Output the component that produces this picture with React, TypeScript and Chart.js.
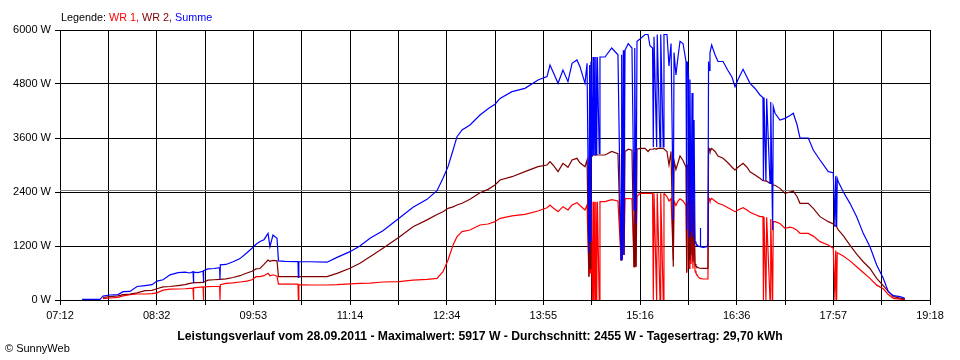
import React, { useEffect, useRef } from 'react';
import { Chart, registerables } from 'chart.js';

Chart.register(...registerables);

// Time of day in minutes since midnight
const times = [
  450.4, 465.4, 467.9, 473.7, 480.4, 484.6, 490.4, 496.3, 502.9, 508.8,
  512.9, 518.0, 523.8, 530.5, 536.3, 540.5, 543.0, 543.3, 543.7, 547.2,
  551.4, 551.7, 552.0, 555.5, 560.5, 565.2, 565.5, 565.8, 570.5, 576.4,
  582.2, 588.0, 592.2, 595.6, 598.9, 602.2, 605.6, 607.2, 609.7, 613.1,
  614.3, 619.8, 630.6, 630.9, 631.3, 640.6,
  654.8, 663.2, 674.0, 682.3, 690.7, 701.5, 714.9, 726.6, 738.3, 746.6,
  751.6, 755.8, 760.0, 763.3, 767.5, 774.1, 782.5, 789.2, 795.0, 799.2,
  809.2, 820.0, 830.9, 838.4, 840.9, 843.4, 847.6, 851.7, 855.9, 859.3,
  863.4, 865.9, 870.1, 871.8, 873.4, 874.0, 874.5, 875.1, 876.2, 876.8,
  877.3, 877.8, 878.5, 879.1, 879.9, 880.4, 882.0, 882.6, 886.8, 892.4,
  897.6, 900.2, 900.7, 901.2, 902.1, 902.6, 903.5, 906.2, 909.3, 911.0,
  911.6, 912.7, 913.5, 916.0, 920.2, 922.7, 924.3, 926.5, 927.1, 927.7,
  929.9, 930.4, 932.7, 933.3, 935.4, 936.0, 938.5, 940.2, 941.9, 943.8,
  944.4, 946.0, 947.7, 949.4, 951.9, 954.4, 955.0, 955.5, 956.5, 957.2,
  957.7, 958.6, 959.4, 960.2, 961.1, 961.9, 962.7, 964.4, 966.1, 966.3,
  966.7, 968.6, 971.9, 972.7, 973.2, 973.6, 974.4, 975.8, 978.6, 981.1,
  985.3, 989.4, 992.8, 995.3, 997.8, 1002.0, 1005.3, 1007.8, 1012.0, 1016.1,
  1018.6, 1019.0, 1019.5, 1021.1, 1021.7, 1024.5, 1025.1, 1026.7, 1027.2, 1028.7,
  1032.8, 1037.0, 1041.2, 1043.9, 1047.0, 1049.5, 1056.4, 1060.6, 1066.2, 1073.1,
  1077.3, 1078.7, 1079.3, 1080.1, 1080.6, 1081.5, 1085.6, 1091.2, 1096.8, 1102.3,
  1107.9, 1113.5, 1119.0, 1123.2, 1127.4, 1133.0, 1137.1,
];

const wr1 = [
  null, null, 30, 44, 60, 90, 120, 133, 133, 140,
  160, 220, 240, 244, 250, 260, 260, 0, 270, 280,
  290, 0, 290, 296, 300, 300, 0, 340, 370, 380,
  400, 420, 450, 518, 520, 540, 593, 540, 560, 530,
  355, 355, 355, 0, 340, 333,
  333, 340, 360, 370, 375, 400, 410, 440, 460, 481,
  630, 889, 1222, 1407, 1519, 1556, 1667, 1689, 1741, 1815,
  1870, 1904, 1978, 2050, 2111, 2050, 1963, 2074, 2000, 2111,
  2163, 2100, 2000, 2111, 518, 2111, 600, 2150, 0, 2185,
  0, 2185, 0, 2185, 0, 2185, 0, 2185, 2185, 2230,
  2200, 889, 2200, 900, 2250, 1000, 2252, 2252, 2250, 741,
  2300, 741, 2300, 2370, 2370, 2370, 2370, 2370, 0, 2370,
  0, 2370, 0, 2370, 0, 2370, 2300, 2200, 2250, 889,
  2200, 2100, 2200, 2250, 2200, 2100, 600, 2150, 2100, 700,
  2000, 800, 1800, 700, 1500, 650, 600, 520, 480, 480,
  480, 467, 467, 467, 2259, 2259, 2200, 2259, 2200, 2150,
  2111, 2050, 2000, 1963, 2000, 2050, 2000, 1950, 1900, 1852,
  1852, 0, 1852, 0, 1840, 0, 1800, 0, 1741, 1741,
  1700, 1593, 1620, 1600, 1550, 1481, 1481, 1420, 1296, 1222,
  1148, 0, 1100, 0, 1050, 1037, 980, 870, 740, 610,
  480, 330, 250, 120, 37, 20, 10,
];

const wr2 = [
  null, null, 60, 74, 90, 120, 133, 160, 207, 215,
  250, 290, 300, 320, 340, 370, 380, 380, 385, 385,
  390, 390, 390, 440, 450, 460, 460, 460, 470, 500,
  540, 600, 640, 690, 700, 790, 889, 860, 880, 870,
  518, 518, 518, 518, 518, 518,
  518, 593, 704, 815, 960, 1150, 1393, 1630, 1780, 1900,
  1960, 2037, 2070, 2110, 2150, 2237, 2385, 2459, 2556, 2667,
  2740, 2852, 2963, 3000, 3074, 3000, 2852, 3037, 2950, 3110,
  3148, 3050, 2963, 3111, 518, 3111, 700, 3150, 3200, 3222,
  3222, 3222, 3222, 3222, 3222, 3222, 3222, 3222, 3222, 3300,
  3250, 889, 3250, 900, 3300, 1000, 3300, 3350, 3330, 741,
  3300, 741, 3350, 3370, 3370, 3300, 3350, 3350, 3350, 3370,
  3350, 3370, 3370, 3370, 3370, 3370, 3300, 3000, 3300, 741,
  3100, 2900, 3050, 3200, 3100, 2950, 630, 3000, 3000, 900,
  2900, 1000, 2700, 850, 2200, 800, 750, 720, 705, 705,
  705, 704, 704, 704, 3370, 3370, 3300, 3370, 3300, 3200,
  3150, 3050, 2950, 2889, 2950, 3037, 2950, 2850, 2780, 2704,
  2650, 2650, 2650, 2640, 2640, 2593, 2593, 2593, 2550, 2550,
  2481, 2370, 2400, 2420, 2300, 2148, 2148, 2037, 1852, 1741,
  1689, 1650, 1650, 1630, 1600, 1560, 1430, 1220, 1020, 850,
  700, 480, 320, 190, 74, 40, 20,
];

const summe = [
  15, 15, 90, 111, 120, 185, 190, 300, 320, 340,
  420, 450, 560, 610, 620, 600, 630, 380, 620, 607,
  640, 390, 650, 690, 700, 720, 460, 780, 790, 850,
  920, 1050, 1150, 1240, 1300, 1340, 1480, 1185, 1444, 1370,
  870, 860, 852, 500, 852, 850,
  840, 948, 1074, 1200, 1370, 1541, 1815, 2059, 2237, 2430,
  2704, 2963, 3333, 3630, 3778, 3889, 4111, 4250, 4350, 4481,
  4630, 4704, 4889, 4963, 5222, 5074, 4815, 5111, 4852, 5259,
  5333, 5185, 4815, 5259, 1040, 5222, 1300, 5300, 3200, 5400,
  3222, 5400, 3222, 5400, 3222, 5400, 3259, 5400, 5400, 5600,
  5450, 889, 5450, 900, 5550, 1000, 5550, 5700, 5600, 2000,
  5600, 1700, 5750, 5800, 5900, 5900, 5650, 5600, 3400, 5850,
  3400, 5900, 3400, 5900, 3400, 5900, 5900, 5200, 5700, 1780,
  5500, 5000, 5400, 5750, 5700, 5300, 1555, 5300, 5000, 1400,
  4900, 1500, 4600, 1400, 4000, 1300, 1250, 1200, 1185, 1600,
  1185, 1170, 1185, 1250, 5300, 5100, 5500, 5667, 5450, 5300,
  5300, 5100, 4950, 4741, 4900, 5126, 4950, 4815, 4700, 4556,
  4500, 2650, 4500, 2640, 4480, 2593, 4400, 1555, 4300, 4150,
  4000, 4037, 4100, 4150, 3900, 3600, 3600, 3333, 3111, 2852,
  2830, 1630, 2750, 1630, 2700, 2630, 2407, 2148, 1852, 1481,
  1185, 778, 481, 185, 96, 74, 40,
];

const xTickLabels = ['07:12', '08:32', '09:53', '11:14', '12:34', '13:55', '15:16', '16:36', '17:57', '19:18'];
const xMin = 432; // 07:12
const xMax = 1158; // 19:18
const xGridCount = 18;
const yMax = 6000;
const yStep = 1200;
const averageW = 2455;

const legendParts: [string, string][] = [
  ['Legende: ', '#000000'],
  ['WR 1,', '#ff0000'],
  [' WR 2,', '#800000'],
  [' Summe', '#0000ff'],
];
const titleText = 'Leistungsverlauf vom 28.09.2011 - Maximalwert: 5917 W - Durchschnitt: 2455 W - Tagesertrag: 29,70 kWh';
const footerText = '\u00a9 SunnyWeb';

const FONT = '"Liberation Sans", Arial, sans-serif';

const toPoints = (vals: (number | null)[]) => times.map((t, i) => ({ x: t, y: vals[i] }));

const overlay = {
  id: 'overlay',
  beforeDatasetsDraw(chart: any) {
    const { ctx, chartArea, scales } = chart;
    const y = Math.round(scales.y.getPixelForValue(averageW)) + 0.5;
    ctx.save();
    ctx.strokeStyle = '#808080';
    ctx.lineWidth = 1;
    ctx.beginPath();
    ctx.moveTo(chartArea.left, y);
    ctx.lineTo(chartArea.right, y);
    ctx.stroke();
    ctx.restore();
  },
  afterDraw(chart: any) {
    const { ctx } = chart;
    ctx.save();
    ctx.textBaseline = 'alphabetic';
    ctx.font = `10.8px ${FONT}`;
    let x = 61;
    for (const [txt, col] of legendParts) {
      ctx.fillStyle = col;
      ctx.fillText(txt, x, 21);
      x += ctx.measureText(txt).width;
    }
    ctx.fillStyle = '#000000';
    ctx.font = `bold 12.2px ${FONT}`;
    ctx.textAlign = 'center';
    ctx.fillText(titleText, 480, 340);
    ctx.textAlign = 'left';
    ctx.font = `11px ${FONT}`;
    ctx.fillText(footerText, 5, 352);
    ctx.restore();
  },
};

export default function App() {
  const ref = useRef<HTMLCanvasElement | null>(null);
  useEffect(() => {
    if (!ref.current) return;
    const chart = new Chart(ref.current, {
      type: 'line',
      data: {
        datasets: [
          { label: 'Summe', data: toPoints(summe), borderColor: '#0000ff', order: 0 },
          { label: 'WR 2', data: toPoints(wr2), borderColor: '#800000', order: 1 },
          { label: 'WR 1', data: toPoints(wr1), borderColor: '#ff0000', order: 2 },
        ],
      },
      options: {
        responsive: false,
        animation: false,
        parsing: false,
        normalized: true,
        spanGaps: false,
        layout: { padding: { top: 30, right: 30, left: 0, bottom: 0 } },
        elements: {
          point: { radius: 0, hoverRadius: 0 },
          line: { borderWidth: 1.2, tension: 0, fill: false },
        },
        plugins: { legend: { display: false }, tooltip: { enabled: false }, title: { display: false } },
        scales: {
          x: {
            type: 'linear',
            min: xMin,
            max: xMax,
            afterBuildTicks: (axis: any) => {
              axis.ticks = Array.from({ length: xGridCount + 1 }, (_, i) => ({
                value: xMin + (i * (xMax - xMin)) / xGridCount,
              }));
            },
            afterFit: (axis: any) => {
              axis.height = 60;
            },
            ticks: {
              autoSkip: false,
              maxRotation: 0,
              minRotation: 0,
              padding: 4,
              color: '#000000',
              font: { family: FONT, size: 11 },
              callback: (_v: any, i: number) => (i % 2 === 0 ? xTickLabels[i / 2] : ''),
            },
            grid: { color: '#000000', lineWidth: 1, tickLength: 5, drawTicks: true },
            border: { display: true, color: '#000000' },
          },
          y: {
            min: 0,
            max: yMax,
            afterFit: (axis: any) => {
              axis.width = 60;
            },
            ticks: {
              stepSize: yStep,
              padding: 4,
              color: '#000000',
              font: { family: FONT, size: 11 },
              callback: (v: any) => `${v} W`,
            },
            grid: { color: '#000000', lineWidth: 1, tickLength: 5, drawTicks: true },
            border: { display: true, color: '#000000' },
          },
        },
      },
      plugins: [overlay],
    } as any);
    return () => chart.destroy();
  }, []);

  return (
    <div style={{ position: 'absolute', left: 0, top: 0, width: 960, height: 360, background: '#fff' }}>
      <canvas ref={ref} width={960} height={360} style={{ display: 'block' }} />
    </div>
  );
}
